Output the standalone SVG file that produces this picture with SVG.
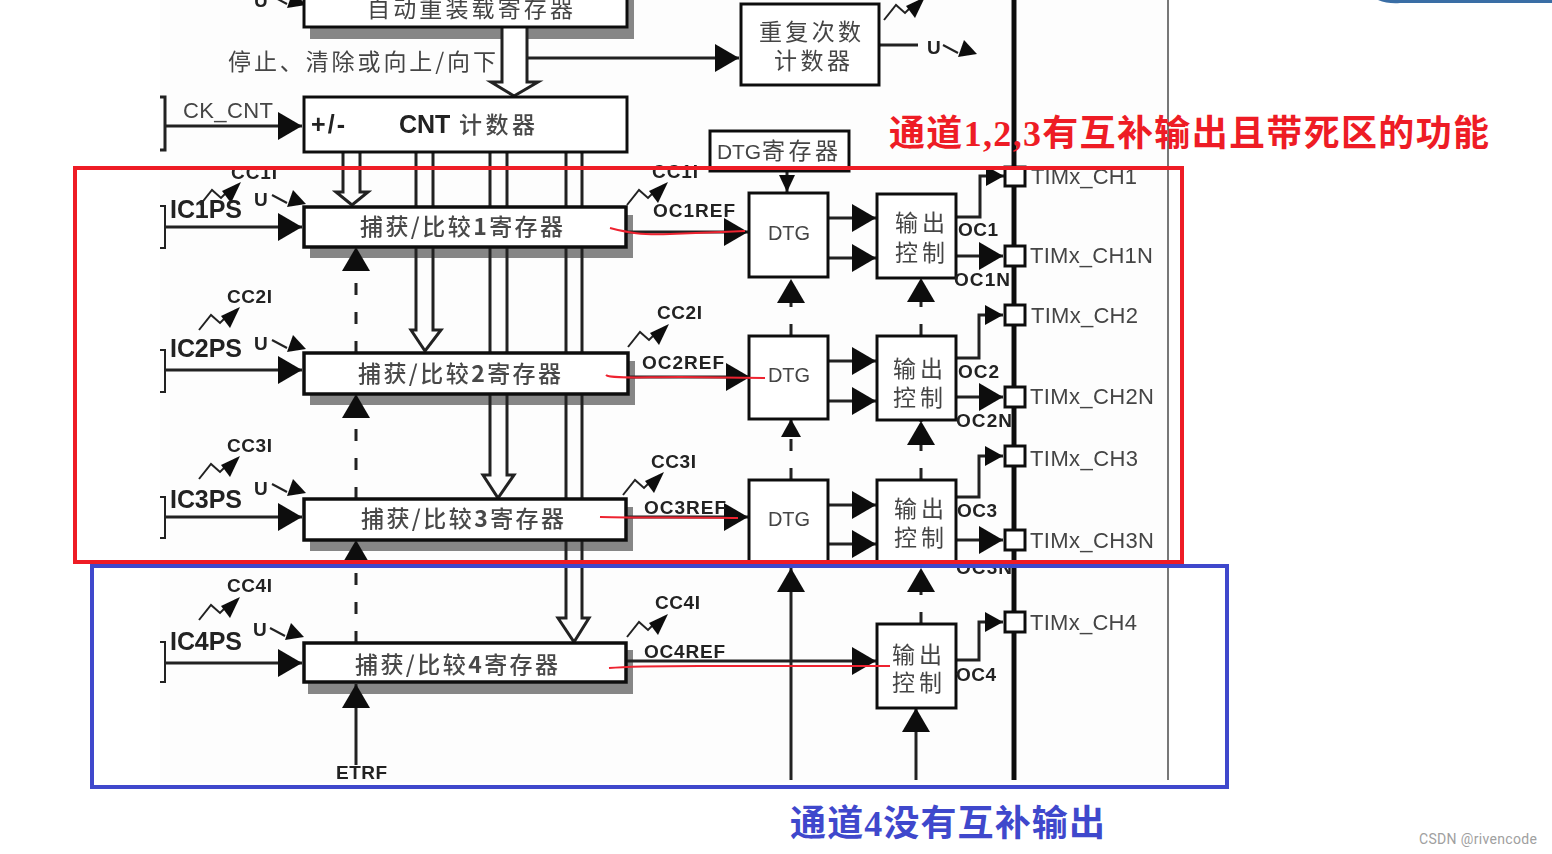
<svg xmlns="http://www.w3.org/2000/svg" width="1552" height="854" viewBox="0 0 1552 854">
<style>
.box{fill:#fff;stroke:#111;stroke-width:3}
.sh{fill:#868686}
.t{fill:none;stroke:#222;stroke-width:3}
.d{fill:none;stroke:#222;stroke-width:3;stroke-dasharray:12 17}
.a{fill:none;stroke:#222;stroke-width:3;marker-end:url(#ah)}
.ink{fill:none;stroke:#ee2330;stroke-width:2}
.cn{font-family:"Noto Sans CJK SC","Noto Sans",sans-serif;font-size:23px;fill:#444}
.cb{font-family:"Noto Sans CJK SC","Noto Sans",sans-serif;font-size:23px;fill:#333;font-weight:700}
.cm{font-family:"Noto Sans CJK SC","Noto Sans",sans-serif;font-size:23px;fill:#4a4a4a;font-weight:500}
.l{font-family:"Liberation Sans",Arial,sans-serif;font-size:22px;fill:#444}
.b{font-family:"Liberation Sans",Arial,sans-serif;font-size:19px;fill:#222;font-weight:700}
.p{font-family:"Liberation Sans",Arial,sans-serif;font-size:25px;fill:#222;font-weight:700}
.pin{fill:#fff;stroke:#111;stroke-width:3}
.ann{font-family:"Liberation Serif","Noto Sans CJK SC",serif;font-size:36px;font-weight:700}
</style>
<defs>
<marker id="ah" markerUnits="userSpaceOnUse" markerWidth="26" markerHeight="28" refX="24" refY="14" orient="auto"><path d="M0 0L24 14L0 28Z" fill="#111"/></marker>
<marker id="am" markerUnits="userSpaceOnUse" markerWidth="20" markerHeight="22" refX="18" refY="11" orient="auto"><path d="M0 1L18 11L0 21Z" fill="#111"/></marker>
<marker id="as" markerUnits="userSpaceOnUse" markerWidth="18" markerHeight="18" refX="17" refY="9" orient="auto"><path d="M0 1L17 9L0 17Z" fill="#111"/></marker>
<g id="sq"><path d="M0 0L12-15L21-7L29-15" fill="none" stroke="#222" stroke-width="2"/><path d="M41-23L22-14L31-2Z" fill="#111"/></g>
<g id="ua"><path d="M0 0L15 8" fill="none" stroke="#222" stroke-width="2"/><path d="M15 12L21-5L34 9Z" fill="#111"/></g>
<filter id="soft" x="-2%" y="-2%" width="104%" height="104%"><feGaussianBlur stdDeviation="0.55"/></filter>
</defs>
<rect width="1552" height="854" fill="#fff"/>
<rect x="160" y="0" width="1010" height="782" fill="#fdfdfd"/>
<g id="diagram" filter="url(#soft)">
<g id="shadows">
<rect class="sh" x="310" y="27" width="324" height="12"/>
<rect class="sh" x="627" y="0" width="7" height="39"/>
<rect class="sh" x="310" y="215" width="323" height="43"/>
<rect class="sh" x="310" y="361" width="325" height="44"/>
<rect class="sh" x="310" y="507" width="323" height="44"/>
<rect class="sh" x="308" y="650" width="325" height="44"/>
</g>
<g id="connectors">
<path class="t" d="M502 27V82H491L514 96L538 82H527V27" style="fill:#fff"/>
<path class="a" d="M527 58H739"/>
<path class="a" d="M165 126H302"/>
<path class="t" d="M160 97H165V150H160"/>
<path class="t" d="M160 206H165V248H160M160 350H165V392H160M160 497H165V538H160M160 642H165V682H160" style="stroke-width:2"/>
<path class="a" d="M165 227H302"/><path class="a" d="M165 370H302"/><path class="a" d="M165 517H302"/><path class="a" d="M165 663H302"/>
<path class="t" d="M343 152V192H336L352 205L368 192H360V152"/>
<path class="t" d="M416 152V207M433 152V207M416 247V330H411L425 351L441 330H433V247"/>
<path class="t" d="M490 152V207M507 152V207M490 247V353M507 247V353M490 394V475H483L498 498L514 475H507V394"/>
<path class="t" d="M566 152V207M582 152V207M566 247V353M582 247V353M566 394V499M582 394V499M566 540V618H558L574 642L589 618H582V540"/>
<path class="d" d="M356 353V247" style="marker-end:url(#ah)"/>
<path class="d" d="M356 499V394" style="marker-end:url(#ah)"/>
<path class="d" d="M356 643V540" style="marker-end:url(#ah)"/>
<path class="a" d="M356 765V684"/>
<path class="d" d="M791 336V279" style="marker-end:url(#ah)"/>
<path class="d" d="M791 480V419" style="marker-end:url(#am)"/>
<path class="a" d="M791 780V568"/>
<path class="d" d="M921 336V278" style="marker-end:url(#ah)"/>
<path class="d" d="M921 480V421" style="marker-end:url(#ah)"/>
<path class="d" d="M921 624V568" style="marker-end:url(#ah)"/>
<path class="a" d="M916 780V708"/>
<path class="t" d="M787 171V192" style="marker-end:url(#as)"/>
<path class="a" d="M626 232H748"/><path class="a" d="M628 377H750"/><path class="a" d="M626 517H748"/><path class="a" d="M626 661H876"/>
<path class="a" d="M828 218H876"/><path class="a" d="M828 258H876"/>
<path class="a" d="M828 361H876"/><path class="a" d="M828 401H876"/>
<path class="a" d="M828 505H876"/><path class="a" d="M828 544H876"/>
<path class="t" d="M956 217H980V176H1004" style="marker-end:url(#am)"/><path class="a" d="M956 256H1003"/>
<path class="t" d="M956 358H979V315H1003" style="marker-end:url(#am)"/><path class="a" d="M956 397H1003"/>
<path class="t" d="M956 497H979V456H1003" style="marker-end:url(#am)"/><path class="a" d="M956 540H1003"/>
<path class="t" d="M956 660H979V622H1003" style="marker-end:url(#am)"/>
<path class="t" d="M879 45H918"/>
<path d="M1014 0V780" fill="none" stroke="#111" stroke-width="5"/>
<path d="M1168 0V780" fill="none" stroke="#777" stroke-width="2"/>
<use href="#sq" x="200" y="205"/><use href="#sq" x="199" y="330"/><use href="#sq" x="199" y="479"/><use href="#sq" x="199" y="620"/>
<use href="#sq" x="627" y="205"/><use href="#sq" x="628" y="347"/><use href="#sq" x="623" y="495"/><use href="#sq" x="627" y="637"/><use href="#sq" x="884" y="20"/>
<use href="#ua" x="272" y="195"/><use href="#ua" x="272" y="340"/><use href="#ua" x="272" y="484"/><use href="#ua" x="270" y="628"/><use href="#ua" x="272" y="-4"/><use href="#ua" x="943" y="45"/>
</g>
<g id="auto-reload"><rect class="box" x="304" y="-10" width="323" height="37"/><text class="cn" x="367" y="17" textLength="206" lengthAdjust="spacing">自动重装载寄存器</text></g>
<g id="repeat-counter"><rect class="box" x="741" y="4" width="138" height="81"/><text class="cn" x="759" y="40" textLength="102" lengthAdjust="spacing">重复次数</text><text class="cn" x="774" y="69" textLength="76" lengthAdjust="spacing">计数器</text></g>
<g id="cnt"><rect class="box" x="304" y="97" width="323" height="55"/><text class="p" x="311" y="133" textLength="34">+/-</text><text class="p" x="399" y="133">CNT</text><text class="cm" x="459" y="133" textLength="76" lengthAdjust="spacing">计数器</text></g>
<g id="dtg-reg"><rect class="box" x="710" y="131" width="139" height="40"/><text class="l" x="717" y="159" textLength="44" style="font-size:21px">DTG</text><text class="cn" x="762" y="159" textLength="76" lengthAdjust="spacing">寄存器</text></g>
<g id="ccr1"><rect class="box" x="304" y="207" width="322" height="40" style="stroke-width:3.5"/><text class="cm" x="360" y="235" textLength="203" lengthAdjust="spacing">捕获/比较<tspan font-weight="700">1</tspan>寄存器</text></g>
<g id="ccr2"><rect class="box" x="304" y="353" width="324" height="41" style="stroke-width:3.5"/><text class="cm" x="358" y="382" textLength="203" lengthAdjust="spacing">捕获/比较<tspan font-weight="700">2</tspan>寄存器</text></g>
<g id="ccr3"><rect class="box" x="304" y="499" width="322" height="41" style="stroke-width:3.5"/><text class="cm" x="361" y="527" textLength="203" lengthAdjust="spacing">捕获/比较<tspan font-weight="700">3</tspan>寄存器</text></g>
<g id="ccr4"><rect class="box" x="304" y="643" width="322" height="39" style="stroke-width:3.5"/><text class="cm" x="355" y="673" textLength="203" lengthAdjust="spacing">捕获/比较<tspan font-weight="700">4</tspan>寄存器</text></g>
<g id="dtg1"><rect class="box" x="749" y="193" width="79" height="84"/><text class="l" x="768" y="240" textLength="42" style="font-size:20px">DTG</text></g>
<g id="dtg2"><rect class="box" x="749" y="336" width="79" height="83"/><text class="l" x="768" y="382" textLength="42" style="font-size:20px">DTG</text></g>
<g id="dtg3"><rect class="box" x="749" y="480" width="79" height="85"/><text class="l" x="768" y="526" textLength="42" style="font-size:20px">DTG</text></g>
<g id="out1"><rect class="box" x="877" y="194" width="79" height="84"/><text class="cn" x="895" y="231" textLength="50" lengthAdjust="spacing">输出</text><text class="cn" x="895" y="261" textLength="50" lengthAdjust="spacing">控制</text></g>
<g id="out2"><rect class="box" x="877" y="336" width="79" height="84"/><text class="cn" x="893" y="377" textLength="50" lengthAdjust="spacing">输出</text><text class="cn" x="893" y="406" textLength="50" lengthAdjust="spacing">控制</text></g>
<g id="out3"><rect class="box" x="877" y="480" width="79" height="85"/><text class="cn" x="894" y="517" textLength="50" lengthAdjust="spacing">输出</text><text class="cn" x="894" y="546" textLength="50" lengthAdjust="spacing">控制</text></g>
<g id="out4"><rect class="box" x="877" y="624" width="79" height="84"/><text class="cn" x="892" y="663" textLength="50" lengthAdjust="spacing">输出</text><text class="cn" x="892" y="691" textLength="50" lengthAdjust="spacing">控制</text></g>
<g id="pin-ch1"><rect class="pin" x="1005" y="167" width="20" height="19"/><text class="l" x="1031" y="184" textLength="106">TIMx_CH1</text></g>
<g id="pin-ch1n"><rect class="pin" x="1005" y="246" width="20" height="20"/><text class="l" x="1030" y="263" textLength="123">TIMx_CH1N</text></g>
<g id="pin-ch2"><rect class="pin" x="1005" y="305" width="20" height="20"/><text class="l" x="1031" y="323" textLength="107">TIMx_CH2</text></g>
<g id="pin-ch2n"><rect class="pin" x="1005" y="387" width="20" height="20"/><text class="l" x="1030" y="404" textLength="124">TIMx_CH2N</text></g>
<g id="pin-ch3"><rect class="pin" x="1005" y="446" width="20" height="20"/><text class="l" x="1030" y="466" textLength="108">TIMx_CH3</text></g>
<g id="pin-ch3n"><rect class="pin" x="1005" y="530" width="20" height="20"/><text class="l" x="1030" y="548" textLength="124">TIMx_CH3N</text></g>
<g id="pin-ch4"><rect class="pin" x="1005" y="612" width="20" height="20"/><text class="l" x="1030" y="630" textLength="107">TIMx_CH4</text></g>
<g id="labels">
<text class="cn" x="228" y="70" textLength="268" lengthAdjust="spacing">停止、清除或向上/向下</text>
<text class="l" x="183" y="118" textLength="90">CK_CNT</text>
<text class="p" x="170" y="218" textLength="72">IC1PS</text><text class="p" x="170" y="357" textLength="72">IC2PS</text><text class="p" x="170" y="508" textLength="72">IC3PS</text><text class="p" x="170" y="650" textLength="72">IC4PS</text>
<text class="b" x="231" y="179" textLength="46">CC1I</text><text class="b" x="227" y="303" textLength="45">CC2I</text><text class="b" x="227" y="452" textLength="45">CC3I</text><text class="b" x="227" y="592" textLength="45">CC4I</text>
<text class="b" x="652" y="178" textLength="46">CC1I</text><text class="b" x="657" y="319" textLength="45">CC2I</text><text class="b" x="651" y="468" textLength="45">CC3I</text><text class="b" x="655" y="609" textLength="45">CC4I</text>
<text class="b" x="254" y="206">U</text><text class="b" x="254" y="350">U</text><text class="b" x="254" y="495">U</text><text class="b" x="253" y="636">U</text><text class="b" x="254" y="7">U</text><text class="b" x="927" y="54">U</text>
<text class="b" x="653" y="217" textLength="82">OC1REF</text><text class="b" x="642" y="369" textLength="82">OC2REF</text><text class="b" x="644" y="514" textLength="82">OC3REF</text><text class="b" x="644" y="658" textLength="81">OC4REF</text>
<text class="b" x="958" y="236" textLength="40">OC1</text><text class="b" x="954" y="286" textLength="56">OC1N</text>
<text class="b" x="958" y="378" textLength="41">OC2</text><text class="b" x="956" y="427" textLength="56">OC2N</text>
<text class="b" x="957" y="517" textLength="40">OC3</text><text class="b" x="956" y="574" textLength="56">OC3N</text>
<text class="b" x="956" y="681" textLength="40">OC4</text>
<text class="b" x="336" y="779" textLength="51">ETRF</text>
</g>
</g>
<g id="annotations">
<path class="ink" d="M610 228C630 233 640 235 670 234S720 232 745 231"/>
<path class="ink" d="M606 375C610 379 640 377 680 377L765 378"/>
<path class="ink" d="M600 517C640 518 700 517 738 518"/>
<path class="ink" d="M609 668C640 665 700 666 750 666L890 666"/>
<rect x="75" y="168" width="1107" height="394" fill="none" stroke="#ee1c25" stroke-width="4"/>
<rect x="92" y="566" width="1135" height="221" fill="none" stroke="#3f48cc" stroke-width="4"/>
<text class="ann" x="889" y="146" textLength="600" fill="#ee1c25">通道1,2,3有互补输出且带死区的功能</text>
<text class="ann" x="790" y="836" textLength="315" fill="#3f48cc">通道4没有互补输出</text>
<text x="1419" y="844" font-family="Roboto,'Liberation Sans',sans-serif" font-size="14" fill="#a0a0a0" textLength="118">CSDN @rivencode</text>
<path d="M1378 0Q1388 4 1400 3H1552V0Z" fill="#3a6ea5"/>
</g>
</svg>
